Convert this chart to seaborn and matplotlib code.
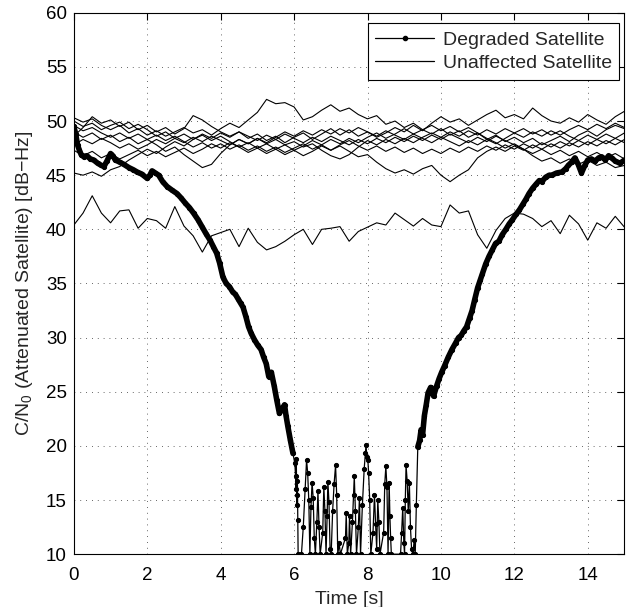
import numpy as np
import pandas as pd
import seaborn as sns
import matplotlib
matplotlib.use("Agg")
import matplotlib.pyplot as plt
from matplotlib.lines import Line2D

# time axis of the unaffected satellites (0.25 s steps)
t_sat = np.arange(61) * 0.25

# unaffected satellites, C/N0 [dB-Hz]
sat_a = [50.3, 49.9, 50.2, 49.6, 49.2, 49.6, 48.9, 49.3, 48.7, 49.1, 48.6, 49.0, 49.4, 48.9, 49.2, 48.7,
         49.3, 49.8, 49.4, 50.1, 50.8, 52.0, 51.6, 51.7, 51.3, 50.1, 50.4, 51.0, 51.5, 50.9, 51.2, 50.6,
         50.2, 50.5, 49.7, 50.0, 49.4, 49.8, 49.2, 48.8, 49.3, 48.7, 49.1, 48.5, 48.9, 48.3, 48.7, 48.1,
         48.5, 48.0, 48.4, 47.8, 48.2, 48.6, 48.1, 48.7, 49.1, 48.6, 49.2, 49.6, 49.3]
sat_b = [48.6, 49.4, 50.4, 49.8, 50.1, 49.5, 49.9, 49.2, 49.6, 49.0, 49.4, 48.8, 49.3, 50.5, 50.1, 49.5,
         49.0, 48.6, 49.0, 48.4, 48.8, 48.2, 48.6, 48.0, 48.5, 48.9, 48.3, 48.8, 49.3, 48.7, 49.2, 48.6,
         49.0, 48.5, 48.9, 49.4, 49.0, 49.6, 49.1, 49.8, 50.4, 49.9, 50.2, 49.6, 50.1, 50.6, 51.0, 50.3,
         50.6, 50.2, 51.2, 50.5, 50.0, 49.8, 50.3, 49.9, 50.6, 50.1, 49.7, 50.4, 50.9]
sat_c = [45.2, 45.0, 45.3, 44.9, 45.5, 45.8, 46.4, 46.9, 47.4, 47.0, 47.6, 48.1, 47.7, 48.3, 48.8, 48.4,
         48.9, 48.5, 49.0, 48.6, 48.2, 48.7, 48.3, 48.8, 48.4, 48.0, 48.5, 48.1, 48.6, 48.2, 47.8, 48.3,
         47.9, 48.4, 48.0, 48.5, 48.1, 48.6, 48.2, 48.7, 48.3, 48.8, 48.4, 48.0, 48.5, 48.1, 48.6, 48.2,
         47.8, 47.4, 46.8, 46.3, 46.6, 46.1, 46.5, 46.0, 46.4, 45.9, 46.2, 45.7, 45.9]
sat_d = [49.0, 48.5, 48.9, 48.3, 48.7, 48.1, 48.5, 47.9, 48.3, 47.8, 47.2, 47.6, 46.9, 46.3, 45.7, 46.0,
         47.0, 47.8, 48.3, 47.9, 48.4, 48.0, 48.5, 49.0, 48.6, 49.1, 48.7, 49.2, 48.8, 49.3, 48.9, 49.4,
         49.0, 48.6, 49.1, 48.7, 48.3, 48.8, 48.4, 48.0, 48.5, 48.1, 47.7, 48.2, 47.8, 48.3, 47.9, 48.4,
         48.9, 49.3, 48.8, 49.2, 48.7, 49.1, 48.6, 48.2, 48.7, 48.3, 48.8, 48.4, 48.9]
sat_e = [47.8, 48.3, 47.9, 48.4, 48.0, 47.5, 47.9, 47.4, 47.8, 48.3, 47.9, 48.4, 48.0, 48.5, 48.1, 48.6,
         48.2, 47.8, 48.3, 47.9, 48.4, 47.9, 48.3, 47.8, 48.1, 47.6, 47.9, 47.3, 46.8, 46.5, 46.9, 47.6,
         48.2, 47.8, 48.3, 47.9, 48.4, 48.0, 48.5, 48.9, 48.5, 49.0, 48.6, 49.1, 48.7, 49.2, 48.8, 49.3,
         48.9, 48.5, 49.0, 48.6, 49.1, 48.7, 49.2, 49.6, 49.2, 49.7, 49.3, 49.8, 49.4]
sat_f = [49.6, 49.1, 49.4, 48.9, 48.5, 48.9, 48.4, 48.8, 48.3, 48.7, 48.2, 48.6, 48.1, 47.6, 48.0, 47.5,
         47.9, 47.4, 47.8, 47.3, 47.7, 47.2, 47.6, 47.1, 47.5, 47.9, 47.4, 47.8, 47.3, 47.7, 47.2, 46.7,
         46.9, 46.2, 45.6, 45.2, 45.5, 45.1, 45.6, 45.9, 45.0, 44.4, 45.0, 45.5, 46.6, 47.2, 47.6, 47.2,
         47.7, 47.3, 47.8, 47.4, 47.9, 47.5, 48.0, 47.6, 48.1, 47.7, 48.2, 47.8, 48.3]
sat_g = [50.0, 49.5, 49.8, 49.2, 49.6, 49.9, 49.3, 49.7, 49.2, 48.6, 49.0, 48.4, 48.8, 48.3, 48.7, 48.2,
         48.6, 48.1, 47.6, 48.0, 47.5, 47.9, 47.4, 47.8, 47.3, 47.7, 48.2, 47.8, 48.3, 47.9, 48.4, 48.0,
         48.5, 48.9, 48.4, 48.8, 49.3, 48.8, 49.2, 49.6, 49.1, 49.5, 49.0, 49.4, 48.9, 48.4, 48.0, 47.5,
         47.9, 47.4, 47.0, 47.4, 46.9, 47.3, 46.8, 47.2, 46.7, 47.1, 46.6, 47.0, 46.5]
sat_h = [47.3, 46.8, 47.2, 46.6, 47.0, 46.5, 46.9, 47.3, 46.8, 47.2, 46.7, 47.1, 47.5, 47.0, 47.4, 47.9,
         47.5, 48.0, 47.6, 47.1, 47.5, 47.0, 47.4, 46.9, 47.3, 46.8, 47.2, 47.7, 47.3, 47.8, 48.2, 47.7,
         47.3, 47.7, 47.2, 47.6, 47.1, 47.5, 47.0, 47.4, 47.0, 47.5, 47.1, 47.6, 47.2, 47.7, 47.3, 47.8,
         47.4, 47.9, 47.5, 48.0, 47.6, 48.1, 47.7, 48.2, 47.8, 48.3, 47.9, 48.4, 48.0]
sat_low = [40.4, 41.5, 43.1, 41.5, 40.6, 41.7, 41.8, 40.1, 41.0, 40.8, 40.1, 42.1, 40.3, 39.4, 37.9, 39.4,
           39.7, 40.0, 38.4, 40.1, 38.8, 38.1, 38.4, 38.9, 39.5, 40.0, 38.6, 40.0, 40.1, 40.25, 38.9, 39.8,
           40.2, 40.6, 40.4, 41.5, 40.9, 40.3, 41.0, 40.4, 40.25, 42.25, 41.5, 41.7, 39.5, 38.25, 39.9, 41.0,
           41.5, 41.4, 41.0, 40.25, 40.8, 39.6, 41.3, 40.5, 39.0, 40.6, 40.1, 41.2, 40.2]

# degraded satellite (time [s], C/N0 [dB-Hz]); 10 = floor of the plot
t_deg = [0.00, 0.05, 0.10, 0.15, 0.20, 0.27, 0.35, 0.45, 0.54, 0.65, 0.75, 0.82, 0.90, 1.00, 1.06, 1.13,
         1.25, 1.36, 1.50, 1.62, 1.72, 1.85, 2.00, 2.07, 2.13, 2.22, 2.31, 2.42, 2.54, 2.68, 2.81, 2.92,
         3.04, 3.15, 3.26, 3.38, 3.49, 3.60, 3.71, 3.80, 3.89, 3.97, 4.06, 4.15, 4.24, 4.33, 4.40, 4.47,
         4.54, 4.61, 4.69, 4.76, 4.83, 4.92, 5.01, 5.10, 5.17, 5.24, 5.31, 5.38, 5.46, 5.53, 5.60, 5.67,
         5.74, 5.78, 5.83, 5.90, 5.97,
         6.02, 6.04, 6.05, 6.06, 6.07, 6.08, 6.09, 6.10, 6.11, 6.20, 6.25, 6.30, 6.34, 6.37, 6.40, 6.43,
         6.46, 6.49, 6.52, 6.55, 6.58, 6.62, 6.65, 6.68, 6.71, 6.78, 6.81, 6.84, 6.87, 6.90, 6.92, 6.95,
         6.98, 7.01, 7.05, 7.09, 7.13, 7.16, 7.19, 7.23, 7.26, 7.40, 7.42, 7.45, 7.49, 7.51, 7.54, 7.59,
         7.62, 7.64, 7.67, 7.70, 7.75, 7.78, 7.81, 7.86, 7.91, 7.94, 7.96, 7.98, 8.01, 8.03, 8.06, 8.09,
         8.15, 8.19, 8.22, 8.25, 8.28, 8.31, 8.34, 8.44, 8.47, 8.50, 8.53, 8.56, 8.59, 8.61, 8.63, 8.65,
         8.90, 8.93, 8.96, 8.99, 9.01, 9.03, 9.05, 9.08, 9.11, 9.14, 9.17, 9.20, 9.24, 9.27, 9.30, 9.33,
         9.37, 9.42, 9.46, 9.50, 9.55, 9.60, 9.65, 9.72, 9.80, 9.88,
         9.95, 10.02, 10.10, 10.20, 10.30, 10.40, 10.48, 10.55, 10.62, 10.70, 10.78, 10.85, 10.92, 11.00,
         11.07, 11.13, 11.22, 11.31, 11.40, 11.49, 11.58, 11.67, 11.77, 11.86, 11.95, 12.05, 12.14, 12.23,
         12.32, 12.40, 12.50, 12.60, 12.68, 12.75, 12.85, 12.95, 13.02, 13.15, 13.30, 13.40, 13.47, 13.56,
         13.65, 13.74, 13.83, 13.92, 14.00, 14.10, 14.20, 14.30, 14.38, 14.48, 14.57, 14.65, 14.75, 14.88,
         15.00]
cn0_deg = [49.5, 48.8, 47.8, 47.3, 46.9, 46.7, 46.8, 46.5, 46.4, 46.1, 45.9, 45.8, 46.3, 47.0, 46.8, 46.4,
           46.2, 46.0, 45.7, 45.5, 45.3, 45.1, 44.7, 45.0, 45.4, 45.2, 45.0, 44.4, 43.95, 43.6, 43.3, 42.9,
           42.4, 42.0, 41.5, 40.9, 40.25, 39.6, 39.0, 38.4, 37.8, 36.9, 35.6, 35.0, 34.7, 34.2, 34.0, 33.6,
           33.2, 32.8, 31.9, 31.0, 30.4, 29.8, 29.3, 28.9, 28.2, 27.6, 26.4, 26.8, 25.5, 24.2, 23.0, 23.4,
           23.8, 22.8, 21.8, 20.5, 19.3,
           18.4, 17.2, 16.0, 18.8, 15.5, 14.5, 16.8, 13.2, 10.0, 10.0, 12.5, 16.0, 18.7, 17.5, 15.0, 10.0,
           14.4, 16.6, 15.2, 11.5, 10.0, 13.0, 15.8, 12.5, 10.0, 12.0, 16.2, 14.0, 10.0, 13.5, 16.7, 14.8,
           10.5, 10.0, 14.0, 16.5, 18.2, 15.5, 10.0, 11.0, 10.0, 11.5, 13.8, 10.0, 11.0, 13.5, 10.0, 13.0,
           15.5, 17.2, 14.0, 10.0, 12.5, 15.2, 10.0, 14.5, 17.9, 19.3, 20.1, 19.0, 18.7, 17.5, 15.0, 10.0,
           12.0, 15.5, 12.8, 10.5, 15.0, 13.0, 10.0, 12.0, 16.5, 18.1, 16.2, 10.0, 16.6, 13.5, 11.5, 10.0,
           10.0, 12.0, 14.3, 11.0, 10.0, 15.0, 18.2, 16.8, 14.0, 16.6, 12.5, 10.5, 10.0, 11.3, 10.0, 14.5,
           19.9, 20.5, 21.5, 21.0, 22.8, 23.8, 24.9, 25.4, 24.6, 25.5,
           26.2, 26.8, 27.4, 28.2, 28.9, 29.5, 30.0, 30.2, 30.6, 31.0, 31.8, 32.5, 33.5, 34.6,
           35.3, 35.9, 36.8, 37.5, 38.1, 38.7, 38.9, 39.5, 40.0, 40.5, 40.9, 41.4, 41.8, 42.3,
           42.8, 43.3, 43.8, 44.2, 44.5, 44.4, 44.8, 45.0, 45.0, 45.2, 45.3, 45.6, 45.9, 46.2,
           46.6, 46.0, 45.2, 45.9, 46.4, 46.5, 46.3, 46.6, 46.7, 46.4, 46.8, 46.6, 46.3, 46.1,
           46.4]

# style
sns.set_theme(style="white")
plt.rcParams['font.family'] = ['Liberation Sans', 'DejaVu Sans']
plt.rcParams['mathtext.default'] = 'regular'

fig, ax = plt.subplots(figsize=(6.26, 6.07), dpi=100)
fig.subplots_adjust(left=0.118, right=0.9975, bottom=0.087, top=0.979)

# unaffected satellites
for v in [sat_a, sat_b, sat_c, sat_d, sat_e, sat_f, sat_g, sat_h, sat_low]:
    sns.lineplot(x=t_sat, y=v, ax=ax, color='black', lw=0.8, estimator=None, sort=False, zorder=2)

# degraded satellite: thick trace where samples are dense, plus dotted samples
deg = pd.DataFrame({'t': t_deg, 'cn0': cn0_deg})
sns.lineplot(data=deg[deg.t <= 6.0], x='t', y='cn0', ax=ax, color='black', lw=4.0,
             estimator=None, sort=False, zorder=3)
sns.lineplot(data=deg[deg.t >= 9.37], x='t', y='cn0', ax=ax, color='black', lw=4.0,
             estimator=None, sort=False, zorder=3)
sns.lineplot(data=deg, x='t', y='cn0', ax=ax, color='black', lw=0.9, marker='o', ms=3.0,
             mec='black', mfc='black', estimator=None, sort=False, zorder=4)

ax.set_xlim(0, 15)
ax.set_ylim(10, 60)
ax.set_xticks(np.arange(0, 15, 2))
ax.set_yticks(np.arange(10, 61, 5))
ax.grid(True, color='0.2', lw=0.6, linestyle=(0, (1, 6)))
for s in ax.spines.values():
    s.set_color('black')
    s.set_linewidth(0.8)
ax.tick_params(direction='in', length=5, width=0.8, top=True, right=True,
               labelsize=13.5, colors='black')
ax.tick_params(axis='x', pad=9)
ax.tick_params(axis='y', pad=5)
ax.set_xlabel('Time [s]', fontsize=14, labelpad=5)
ax.set_ylabel('C/N$_0$ (Attenuated Satellite) [dB\u2212Hz]', fontsize=14, labelpad=8)

# legend
handles = [Line2D([], [], color='black', lw=0.9, marker='o', ms=3.0),
           Line2D([], [], color='black', lw=0.9)]
leg = ax.legend(handles, ['Degraded Satellite', 'Unaffected Satellite'], loc='upper right',
                bbox_to_anchor=(0.991, 0.9805), fontsize=14, frameon=True, fancybox=False,
                handlelength=3.0, handletextpad=0.45, borderpad=0.4, labelspacing=0.3,
                borderaxespad=0)
leg.get_frame().set_edgecolor('black')
leg.get_frame().set_linewidth(0.8)
leg.get_frame().set_alpha(1)

fig.savefig('out.png', dpi=100)
